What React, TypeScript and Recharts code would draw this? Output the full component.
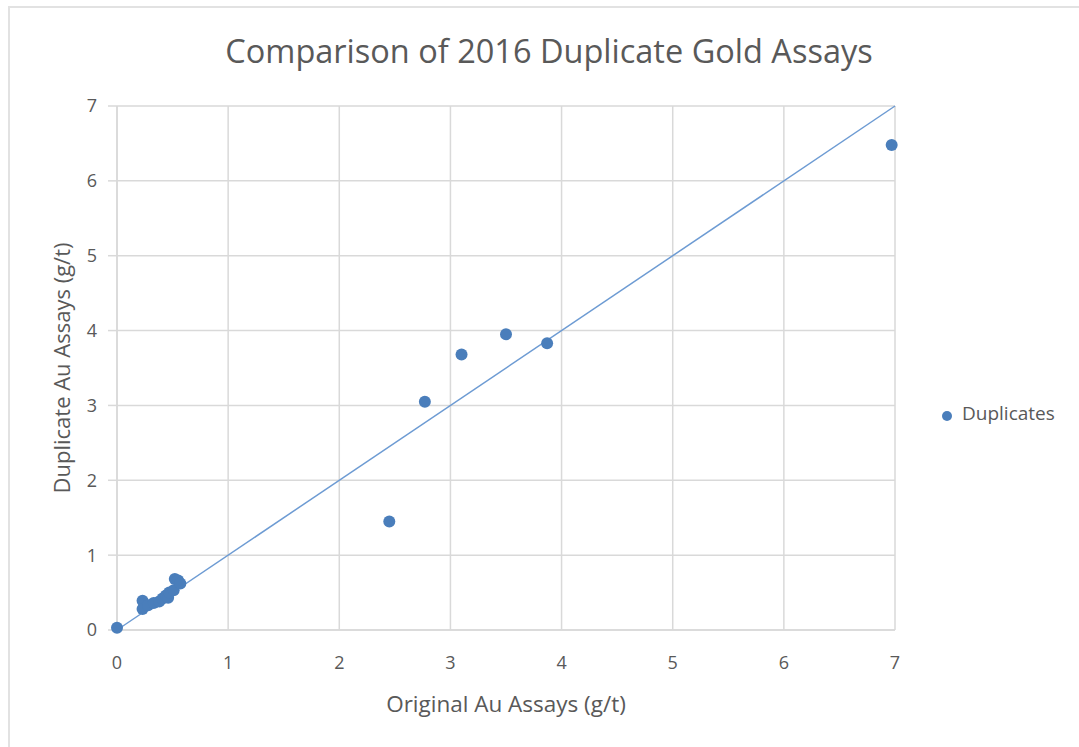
import React from "react";
import {
  ScatterChart,
  Scatter,
  XAxis,
  YAxis,
  CartesianGrid,
  Legend,
  Label,
  ReferenceLine,
} from "recharts";

// Original vs duplicate gold assays (g/t)
const origAu = [
  0.0, 0.23, 0.23, 0.28, 0.33, 0.38, 0.41, 0.44, 0.46, 0.47, 0.51, 0.52, 0.55, 0.57,
  2.45, 2.77, 3.1, 3.5, 3.87, 6.97,
];
const dupAu = [
  0.03, 0.39, 0.28, 0.33, 0.36, 0.38, 0.42, 0.46, 0.43, 0.5, 0.53, 0.68, 0.66, 0.62,
  1.45, 3.05, 3.68, 3.95, 3.83, 6.48,
];
const axisTicks = [0, 1, 2, 3, 4, 5, 6, 7];

const points = origAu.map((x, i) => ({ x, y: dupAu[i] }));

const FONT = "'Open Sans', 'Noto Sans', sans-serif";
const TXT = "#595959";
const GRID = "#d9d9d9";
const DOT = "#4a7ebb";
const LINE = "#6d9bd3";

const Dot = (p: any) => <circle cx={p.cx} cy={p.cy} r={6} fill={DOT} />;

export default function App() {
  return (
    <div style={{ position: "absolute", left: 0, top: 0, width: 1079, height: 747, background: "#fff", fontFamily: FONT }}>
      {/* chart frame, only the left and top edges fall inside the view */}
      <div
        style={{
          position: "absolute",
          left: 8,
          top: 6,
          width: 1071,
          height: 741,
          borderLeft: "2px solid #e2e2e2",
          borderTop: "2px solid #e2e2e2",
          boxSizing: "border-box",
        }}
      />
      <div
        style={{
          position: "absolute",
          left: 0,
          width: 1098,
          top: 28,
          textAlign: "center",
          fontSize: 32.5,
          color: TXT,
        }}
      >
        Comparison of 2016 Duplicate Gold Assays
      </div>
      <ScatterChart
        width={1079}
        height={747}
        margin={{ top: 106, right: 44, left: 7, bottom: 30 }}
        style={{ position: "absolute", left: 0, top: 0 }}
      >
        <CartesianGrid stroke={GRID} strokeWidth={1.5} />
        <XAxis
          type="number"
          dataKey="x"
          domain={[0, 7]}
          ticks={axisTicks}
          height={87}
          axisLine={{ stroke: GRID, strokeWidth: 1.5 }}
          tickLine={false}
          tickMargin={20}
          tick={{ fontSize: 18, fill: TXT, fontFamily: FONT }}
        >
          <Label
            value="Original Au Assays (g/t)"
            position="insideBottom"
            offset={5}
            style={{ fontSize: 22.5, fill: TXT, fontFamily: FONT }}
          />
        </XAxis>
        <YAxis
          type="number"
          dataKey="y"
          domain={[0, 7]}
          ticks={axisTicks}
          width={110}
          axisLine={{ stroke: GRID, strokeWidth: 1.5 }}
          tickLine={{ stroke: GRID, strokeWidth: 1.5 }}
          tickSize={9}
          tickMargin={11}
          tick={{ fontSize: 18, fill: TXT, fontFamily: FONT }}
        >
          <Label
            value="Duplicate Au Assays (g/t)"
            position="center"
            angle={-90}
            style={{ fontSize: 22, fill: TXT, fontFamily: FONT, textAnchor: "middle" }}
          />
        </YAxis>
        <ReferenceLine
          segment={[
            { x: 0, y: 0 },
            { x: 7, y: 7 },
          ]}
          stroke={LINE}
          strokeWidth={1.5}
          ifOverflow="visible"
        />
        <Legend
          layout="vertical"
          align="right"
          verticalAlign="middle"
          iconType="circle"
          iconSize={10}
          wrapperStyle={{ left: 942, top: 400, right: "auto", width: 140, fontFamily: FONT }}
          formatter={(v) => <span style={{ color: TXT, fontSize: 19, marginLeft: 6 }}>{v}</span>}
        />
        <Scatter
          name="Duplicates"
          data={points}
          fill={DOT}
          shape={Dot}
          isAnimationActive={false}
        />
      </ScatterChart>
    </div>
  );
}
